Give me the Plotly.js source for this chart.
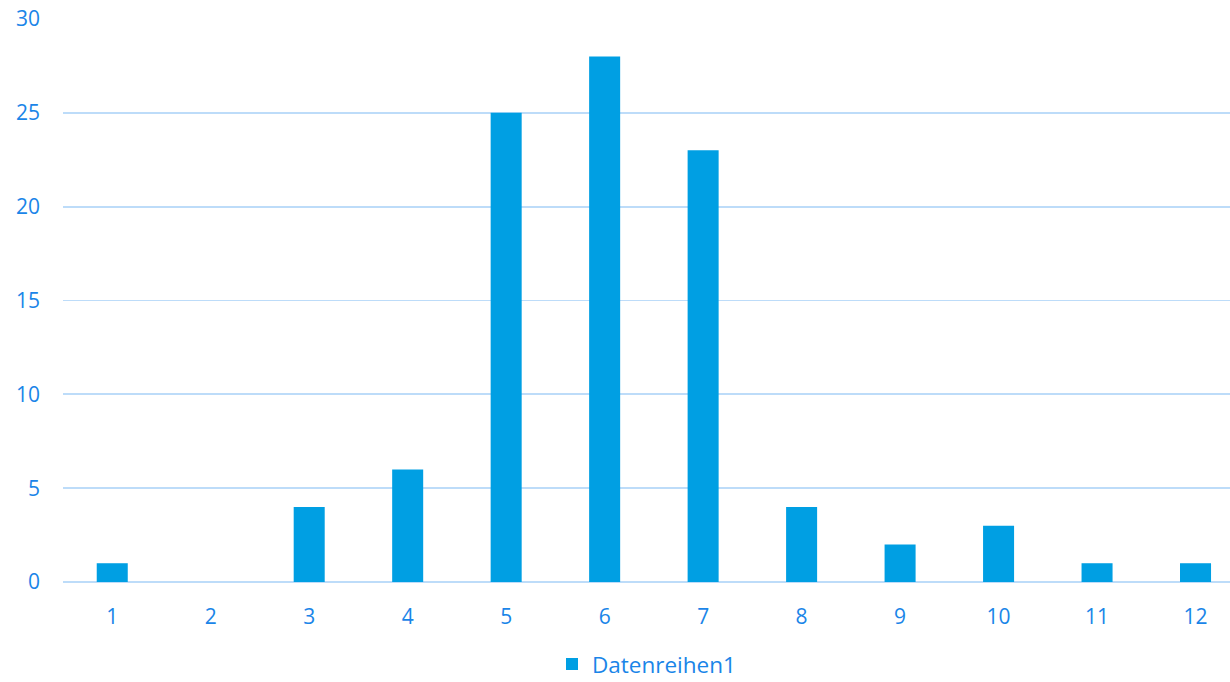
<!DOCTYPE html>
<html><head><meta charset="utf-8">
<script src="https://cdn.plot.ly/plotly-3.0.1.min.js"></script>
<style>html,body{margin:0;padding:0;background:#fff;overflow:hidden}#chart{width:1230px;height:682px}</style>
</head><body><div id="chart"></div>
<script>
const categories = ['1','2','3','4','5','6','7','8','9','10','11','12'];
const values = [1,0,4,6,25,28,23,4,2,3,1,1];
const seriesName = 'Datenreihen1';
const yTicks = [0,5,10,15,20,25,30];

const tickColor = '#1a85e8';
Plotly.newPlot('chart', [{
  type: 'bar', x: categories, y: values, name: seriesName,
  marker: {color: '#009fe3'}, showlegend: true
}], {
  width: 1230, height: 682,
  margin: {l: 63, r: 0, t: 19, b: 100, autoexpand: false},
  paper_bgcolor: '#fff', plot_bgcolor: '#fff',
  bargap: 0.685,
  font: {family: 'Open Sans, sans-serif', color: tickColor, size: 20},
  xaxis: {type: 'category', range: [-0.5, 11.35], showgrid: false, zeroline: false, automargin: false,
    showline: false, ticks: '', tickfont: {size: 21, color: tickColor}, ticklabelstandoff: 20},
  yaxis: {range: [0, 30], tickvals: yTicks, showgrid: true, gridcolor: '#bddcf9', gridwidth: 1.8, automargin: false,
    zeroline: true, zerolinecolor: '#bddcf9', zerolinewidth: 2, showline: false, ticks: '',
    tickfont: {size: 21, color: tickColor}, ticklabelstandoff: 22},
  legend: {orientation: 'h', x: 0.5, xanchor: 'center', y: -0.108, yanchor: 'top',
    font: {size: 22.5, color: tickColor}, itemwidth: 30, tracegroupgap: 0},
  showlegend: true
}, {staticPlot: true});
</script></body></html>
